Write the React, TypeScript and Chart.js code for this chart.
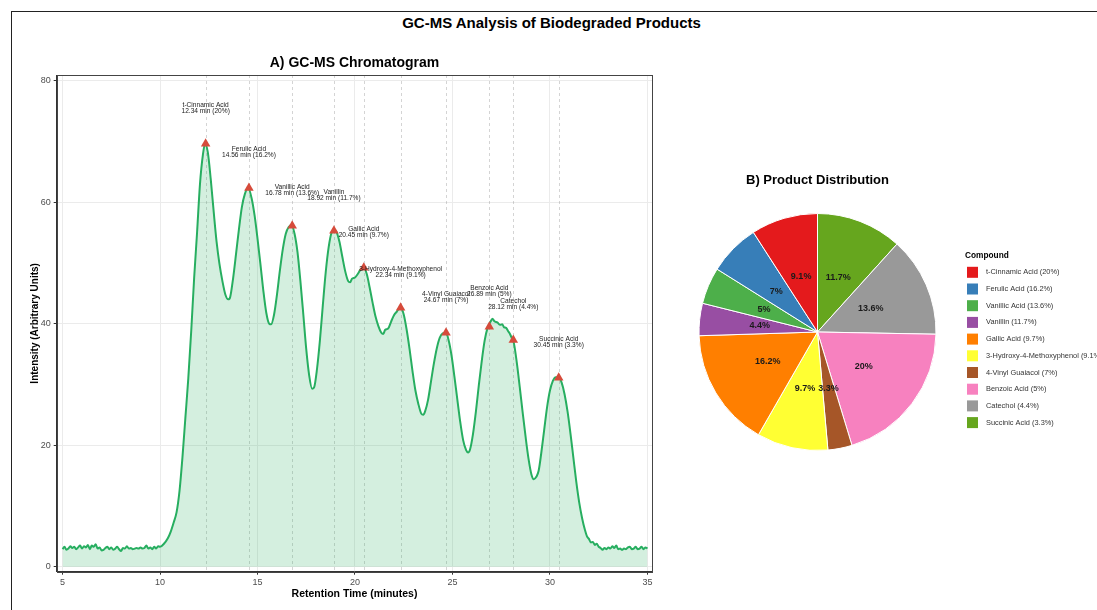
import React, { useEffect, useRef } from "react";
import { Chart, registerables } from "chart.js";

Chart.register(...registerables);

const FONT = '"Liberation Sans", Arial, Helvetica, sans-serif';

// ---------- Chromatogram data ----------
const timePoints = [
  5.0, 5.1, 5.2, 5.3, 5.4, 5.5, 5.6, 5.7, 5.8, 5.9,
  6.0, 6.1, 6.2, 6.3, 6.4, 6.5, 6.6, 6.7, 6.8, 6.9,
  7.0, 7.1, 7.2, 7.3, 7.4, 7.5, 7.6, 7.7, 7.8, 7.9,
  8.0, 8.1, 8.2, 8.3, 8.4, 8.5, 8.6, 8.7, 8.8, 8.9,
  9.0, 9.1, 9.2, 9.3, 9.4, 9.5, 9.6, 9.7, 9.8, 9.9, 10.0,
  10.2, 10.4, 10.55, 10.7, 10.85, 11.0, 11.15, 11.3, 11.45, 11.6, 11.75, 11.9, 12.05, 12.2, 12.31,
  12.45, 12.6, 12.75, 12.9, 13.05, 13.2, 13.35, 13.5, 13.6, 13.75, 13.9, 14.05, 14.2, 14.35, 14.52,
  14.7, 14.85, 15.0, 15.15, 15.3, 15.45, 15.6, 15.7, 15.85, 16.0, 16.15, 16.3, 16.45, 16.6, 16.75,
  16.9, 17.05, 17.2, 17.35, 17.5, 17.65, 17.8, 17.9, 18.05, 18.2, 18.35, 18.5, 18.65, 18.8, 18.92,
  19.05, 19.2, 19.35, 19.5, 19.65, 19.75, 19.85, 20.0, 20.15, 20.3, 20.45, 20.6, 20.75, 20.9, 21.05,
  21.2, 21.35, 21.45, 21.55, 21.7, 21.85, 22.0, 22.15, 22.34, 22.5, 22.65, 22.8, 22.95, 23.1, 23.25,
  23.4, 23.5, 23.6, 23.75, 23.9, 24.05, 24.2, 24.35, 24.5, 24.67, 24.8, 24.95, 25.1, 25.25, 25.4,
  25.55, 25.7, 25.8, 25.9, 26.05, 26.2, 26.35, 26.5, 26.65, 26.8, 26.95, 27.05, 27.15, 27.3, 27.45,
  27.55, 27.65, 27.75, 27.85, 27.95, 28.05, 28.15, 28.3, 28.45, 28.6, 28.75, 28.9, 29.05, 29.17, 29.3,
  29.42, 29.55, 29.7, 29.85, 30.0, 30.15, 30.3, 30.45, 30.6, 30.75, 30.9, 31.05, 31.2, 31.35, 31.5,
  31.65, 31.8, 31.9, 32.0, 32.1, 32.2, 32.3, 32.4, 32.5, 32.6, 32.7, 32.8, 32.9, 33.0, 33.1,
  33.2, 33.3, 33.4, 33.5, 33.6, 33.7, 33.8, 33.9, 34.0, 34.1, 34.2, 34.3, 34.4, 34.5, 34.6,
  34.7, 34.8, 34.9, 35.0,
];

const signal = [
  2.9, 3.3, 2.8, 3.0, 3.4, 3.1, 3.3, 2.9, 3.2, 3.5,
  3.0, 3.4, 3.2, 3.6, 2.9, 3.5, 3.3, 3.7, 3.0, 3.2,
  2.7, 2.8, 3.1, 3.3, 2.9, 3.2, 2.8, 3.0, 3.3, 2.9,
  2.6, 3.1, 3.0, 3.4, 3.0, 3.1, 2.9, 3.0, 3.1, 3.0,
  3.2, 3.0, 3.1, 3.5, 3.0, 3.2, 2.9, 3.3, 3.0, 3.4, 3.3,
  3.8, 4.7, 5.8, 7.3, 9.0, 12.5, 18.0, 24.5, 31.0, 38.8, 47.5, 55.0, 63.0, 67.8, 69.6,
  68.2, 63.8, 58.5, 53.5, 49.8, 47.0, 44.8, 44.0, 44.4, 47.5, 51.5, 55.6, 59.2, 61.3, 62.3,
  60.6, 57.8, 54.0, 49.8, 45.4, 41.8, 40.0, 39.9, 41.5, 44.8, 48.8, 52.3, 54.8, 55.9, 56.2,
  54.8, 51.8, 47.0, 41.5, 35.8, 31.5, 29.3, 29.5, 32.5, 37.2, 43.0, 48.5, 52.6, 55.0, 55.4,
  55.1, 53.5, 51.0, 48.6, 47.0, 46.8, 47.4, 47.6, 48.2, 49.0, 49.2, 48.2, 46.0, 43.5, 41.2,
  39.6, 38.5, 38.3, 39.0, 39.2, 40.3, 41.4, 42.0, 42.7, 41.5, 39.0, 35.8, 32.2, 29.0, 26.8,
  25.2, 25.0, 25.6, 27.5, 30.5, 33.5, 36.0, 37.7, 38.4, 38.5, 37.3, 34.8, 31.3, 27.5, 23.8,
  20.8, 19.2, 18.8, 19.3, 21.8, 25.5, 29.8, 33.8, 37.2, 39.3, 40.3, 40.8, 40.4, 40.2, 39.8,
  39.9, 39.4, 39.3, 38.8, 38.3, 37.6, 36.8, 33.6, 29.6, 25.4, 21.4, 17.8, 15.2, 14.4, 14.8,
  15.8, 18.6, 22.4, 26.2, 29.0, 30.6, 31.2, 31.2, 30.3, 28.4, 25.6, 22.0, 18.0, 14.0, 10.6,
  8.0, 6.0, 5.0, 4.6, 4.0, 4.1, 3.6, 3.8, 3.3, 3.1, 2.8, 3.1, 2.9, 3.2, 3.0,
  3.4, 3.1, 3.5, 2.9, 3.0, 2.8, 3.0, 2.9, 3.2, 3.3, 2.9, 3.0, 3.3, 2.9, 3.0,
  3.3, 2.9, 3.2, 3.0,
];

const peakNames = [
  "t-Cinnamic Acid", "Ferulic Acid", "Vanillic Acid", "Vanillin", "Gallic Acid",
  "3-Hydroxy-4-Methoxyphenol", "4-Vinyl Guaiacol", "Benzoic Acid", "Catechol", "Succinic Acid",
];
const peakTimes = [12.34, 14.56, 16.78, 18.92, 20.45, 22.34, 24.67, 26.89, 28.12, 30.45];
const peakIntensities = [69.6, 62.3, 56.1, 55.3, 49.2, 42.6, 38.5, 39.5, 37.3, 31.1];
const peakShares = ["20%", "16.2%", "13.6%", "11.7%", "9.7%", "9.1%", "7%", "5%", "4.4%", "3.3%"];

const xTicks = [5, 10, 15, 20, 25, 30, 35];
const yTicks = [0, 20, 40, 60, 80];

// ---------- Pie data (clockwise from 12 o'clock) ----------
const sliceNames = [
  "Succinic Acid", "Catechol", "Benzoic Acid", "4-Vinyl Guaiacol", "3-Hydroxy-4-Methoxyphenol",
  "Gallic Acid", "Vanillin", "Vanillic Acid", "Ferulic Acid", "t-Cinnamic Acid",
];
const sliceValues = [11.7, 13.6, 20, 3.3, 9.7, 16.2, 4.4, 5, 7, 9.1];
const sliceColors = [
  "#66A61E", "#999999", "#F781BF", "#A65628", "#FFFF33",
  "#FF7F00", "#984EA3", "#4DAF4A", "#377EB8", "#E41A1C",
];

const legendLabels = [
  "t-Cinnamic Acid (20%)", "Ferulic Acid (16.2%)", "Vanillic Acid (13.6%)", "Vanillin (11.7%)",
  "Gallic Acid (9.7%)", "3-Hydroxy-4-Methoxyphenol (9.1%)", "4-Vinyl Guaiacol (7%)",
  "Benzoic Acid (5%)", "Catechol (4.4%)", "Succinic Acid (3.3%)",
];
const legendColors = [
  "#E41A1C", "#377EB8", "#4DAF4A", "#984EA3", "#FF7F00",
  "#FFFF33", "#A65628", "#F781BF", "#999999", "#66A61E",
];

const chromPlugin = {
  id: "chromExtras",
  beforeDatasetsDraw(chart: any) {
    const { ctx, chartArea, scales } = chart;
    ctx.save();
    ctx.strokeStyle = "rgba(150,150,150,0.5)";
    ctx.lineWidth = 0.8;
    ctx.setLineDash([3, 3]);
    peakTimes.forEach((t) => {
      const x = Math.round(scales.x.getPixelForValue(t)) + 0.5;
      ctx.beginPath();
      ctx.moveTo(x, chartArea.top);
      ctx.lineTo(x, chartArea.bottom);
      ctx.stroke();
    });
    ctx.restore();
  },
  afterDatasetsDraw(chart: any) {
    const { ctx, chartArea, scales } = chart;
    ctx.save();
    // peak labels
    ctx.fillStyle = "#222";
    ctx.font = `6.6px ${FONT}`;
    ctx.textAlign = "center";
    ctx.textBaseline = "middle";
    peakNames.forEach((name, i) => {
      const px = scales.x.getPixelForValue(peakTimes[i]);
      const py = scales.y.getPixelForValue(peakIntensities[i]);
      ctx.fillText(name, px, py - 38.5);
      ctx.fillText(`${peakTimes[i].toFixed(2)} min (${peakShares[i]})`, px, py - 32.5);
    });
    // panel border
    ctx.strokeStyle = "#444";
    ctx.lineWidth = 1;
    ctx.strokeRect(
      Math.round(chartArea.left) + 0.5,
      Math.round(chartArea.top) + 0.5,
      Math.round(chartArea.right - chartArea.left) - 1,
      Math.round(chartArea.bottom - chartArea.top)
    );
    // panel title
    ctx.fillStyle = "#000";
    ctx.font = `bold 14px ${FONT}`;
    ctx.textAlign = "center";
    ctx.textBaseline = "middle";
    ctx.fillText("A) GC-MS Chromatogram", (chartArea.left + chartArea.right) / 2, 63);
    ctx.restore();
  },
};

const piePlugin = {
  id: "pieExtras",
  afterDatasetsDraw(chart: any) {
    const { ctx } = chart;
    const meta = chart.getDatasetMeta(0);
    ctx.save();
    ctx.fillStyle = "#1a1a1a";
    ctx.font = `bold 9px ${FONT}`;
    ctx.textAlign = "center";
    ctx.textBaseline = "middle";
    meta.data.forEach((arc: any, i: number) => {
      const mid = (arc.startAngle + arc.endAngle) / 2;
      const r = arc.outerRadius * 0.49;
      ctx.fillText(`${sliceValues[i]}%`, arc.x + Math.cos(mid) * r, arc.y + Math.sin(mid) * r);
    });
    ctx.restore();
  },
  afterDraw(chart: any) {
    const { ctx, chartArea } = chart;
    ctx.save();
    ctx.fillStyle = "#000";
    ctx.font = `bold 13px ${FONT}`;
    ctx.textAlign = "center";
    ctx.textBaseline = "middle";
    ctx.fillText("B) Product Distribution", (chartArea.left + chartArea.right) / 2, 30);
    // legend
    const lx = 275;
    ctx.textAlign = "left";
    ctx.font = `bold 8.3px ${FONT}`;
    ctx.fillText("Compound", lx, 106);
    ctx.font = `7.4px ${FONT}`;
    legendLabels.forEach((label, i) => {
      const cy = 122.3 + i * 16.7;
      ctx.fillStyle = legendColors[i];
      ctx.fillRect(lx + 2, cy - 5.5, 11, 11);
      ctx.fillStyle = "#333";
      ctx.fillText(label, lx + 21, cy);
    });
    ctx.restore();
  },
};

export default function App() {
  const lineRef = useRef<HTMLCanvasElement>(null);
  const pieRef = useRef<HTMLCanvasElement>(null);

  useEffect(() => {
    const tickFont = { family: FONT, size: 9 };
    const titleFont = { family: FONT, size: 10, weight: "bold" as const };

    const lineChart = new Chart(lineRef.current as HTMLCanvasElement, {
      type: "line",
      data: {
        datasets: [
          {
            type: "line",
            label: "Signal",
            data: timePoints.map((t, i) => ({ x: t, y: signal[i] })),
            borderColor: "#27AE60",
            backgroundColor: "rgba(39,174,96,0.2)",
            fill: "origin",
            borderWidth: 2,
            pointRadius: 0,
            cubicInterpolationMode: "monotone",
            order: 2,
          } as any,
          {
            type: "scatter",
            label: "Peaks",
            data: peakTimes.map((t, i) => ({ x: t, y: peakIntensities[i] })),
            pointStyle: "triangle",
            pointRadius: 5.5,
            backgroundColor: "#D64B3B",
            borderWidth: 0,
            order: 1,
          } as any,
        ],
      },
      options: {
        animation: false,
        responsive: false,
        events: [],
        layout: { padding: { left: 25, top: 75, right: 12.7, bottom: 5.7 } },
        plugins: { legend: { display: false }, tooltip: { enabled: false } },
        scales: {
          x: {
            type: "linear",
            min: 4.7,
            max: 35.25,
            afterBuildTicks: (axis: any) => {
              axis.ticks = xTicks.map((v) => ({ value: v }));
            },
            afterFit: (axis: any) => {
              axis.height = 32.6;
            },
            ticks: { color: "#4d4d4d", font: tickFont, padding: 2, maxRotation: 0 },
            grid: { color: "#ebebeb", tickLength: 3, tickColor: "#333" },
            border: { color: "#333", width: 1 },
            title: {
              display: true,
              text: "Retention Time (minutes)",
              color: "#000",
              font: { family: FONT, size: 10.5, weight: "bold" },
              padding: { top: 4, bottom: 4 },
            },
          },
          y: {
            type: "linear",
            min: -0.8,
            max: 80.9,
            afterBuildTicks: (axis: any) => {
              axis.ticks = yTicks.map((v) => ({ value: v }));
            },
            afterFit: (axis: any) => {
              axis.width = 31.7;
            },
            ticks: { color: "#4d4d4d", font: tickFont, padding: 3 },
            grid: { color: "#ebebeb", tickLength: 3, tickColor: "#333" },
            border: { color: "#333", width: 1 },
            title: {
              display: true,
              text: "Intensity (Arbitrary Units)",
              color: "#000",
              font: titleFont,
              padding: { top: 4, bottom: 4 },
            },
          },
        },
      } as any,
      plugins: [chromPlugin],
    });

    const pieChart = new Chart(pieRef.current as HTMLCanvasElement, {
      type: "pie",
      data: {
        labels: sliceNames,
        datasets: [
          {
            data: sliceValues,
            backgroundColor: sliceColors,
            borderColor: "#ffffff",
            borderWidth: 1,
          },
        ],
      },
      options: {
        animation: false,
        responsive: false,
        events: [],
        radius: 118.5,
        layout: { padding: { left: 8, right: 163, top: 62.5, bottom: 28.5 } },
        plugins: { legend: { display: false }, tooltip: { enabled: false } },
      } as any,
      plugins: [piePlugin],
    });

    return () => {
      lineChart.destroy();
      pieChart.destroy();
    };
  }, []);

  return (
    <div
      style={{
        position: "absolute",
        left: 0,
        top: 0,
        width: 1097,
        height: 610,
        overflow: "hidden",
        background: "#fff",
        fontFamily: FONT,
      }}
    >
      <div
        style={{
          position: "absolute",
          left: 11,
          top: 11,
          width: 2000,
          height: 2000,
          borderTop: "1px solid #222",
          borderLeft: "1px solid #222",
        }}
      />
      <div
        style={{
          position: "absolute",
          left: 0,
          top: 13,
          width: 1103,
          textAlign: "center",
          fontWeight: "bold",
          fontSize: 15,
          lineHeight: "20px",
          color: "#000",
        }}
      >
        GC-MS Analysis of Biodegraded Products
      </div>
      <canvas
        ref={lineRef}
        width={665}
        height={610}
        style={{ position: "absolute", left: 0, top: 0, width: 665, height: 610 }}
      />
      <canvas
        ref={pieRef}
        width={410}
        height={330}
        style={{ position: "absolute", left: 690, top: 150, width: 410, height: 330 }}
      />
    </div>
  );
}
